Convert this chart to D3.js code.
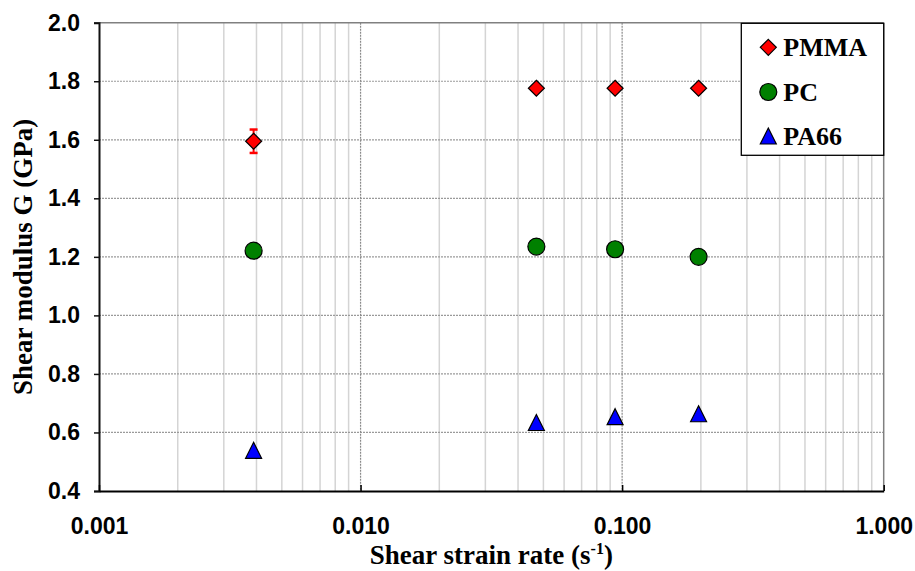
<!DOCTYPE html>
<html>
<head>
<meta charset="utf-8">
<script src="https://cdn.jsdelivr.net/npm/d3@7"></script>
<style>
  html, body { margin: 0; padding: 0; background: #fff; }
  svg { display: block; }
</style>
</head>
<body>
<svg id="chart" width="915" height="571"></svg>
<script>
// ---- data ----
const strainRates = [0.0039, 0.047, 0.094, 0.196];
const pmmaValues = [1.595, 1.776, 1.776, 1.776];
const pmmaErrors = [0.04, 0, 0, 0];
const pcValues = [1.221, 1.235, 1.226, 1.200];
const pa66Values = [0.539, 0.634, 0.654, 0.664];
const seriesNames = ["PMMA", "PC", "PA66"];
const xTickValues = [0.001, 0.01, 0.1, 1];
const xTickLabels = ["0.001", "0.010", "0.100", "1.000"];
const yTickValues = [0.4, 0.6, 0.8, 1.0, 1.2, 1.4, 1.6, 1.8, 2.0];
const xTitle = "Shear strain rate (s";
const xTitleSup = "-1";
const yTitle = "Shear modulus G (GPa)";

// ---- layout ----
const svg = d3.select("#chart");
const L = 99, R = 883.7, T = 22.7, B = 491;
const x = d3.scaleLog().domain([0.001, 1]).range([L, R]);
const y = d3.scaleLinear().domain([0.4, 2.0]).range([B, T]);

const sansBold = "'Liberation Sans', Arial, sans-serif";
const serifBold = "'Liberation Serif', 'Times New Roman', serif";

// minor vertical grid
const allX = x.ticks();
const minorX = allX.filter(d => !xTickValues.some(v => Math.abs(v - d) < 1e-12));
svg.append("g").selectAll("line").data(minorX).join("line")
  .attr("x1", d => x(d)).attr("x2", d => x(d))
  .attr("y1", T).attr("y2", B)
  .attr("stroke", "#d4d4d4").attr("stroke-width", 1.5);

// horizontal grid
svg.append("g").selectAll("line").data(yTickValues.filter(v => v > 0.4 && v < 2.0)).join("line")
  .attr("x1", L).attr("x2", R)
  .attr("y1", d => y(d)).attr("y2", d => y(d))
  .attr("stroke", "#9a9a9a").attr("stroke-width", 1.2)
  .attr("stroke-dasharray", "2,1");

// major vertical grid
svg.append("g").selectAll("line").data(xTickValues.slice(1, -1)).join("line")
  .attr("x1", d => x(d)).attr("x2", d => x(d))
  .attr("y1", T).attr("y2", B)
  .attr("stroke", "#8a8a8a").attr("stroke-width", 1.2)
  .attr("stroke-dasharray", "2,1");

// plot border (top/right gray)
svg.append("line").attr("x1", L).attr("x2", R).attr("y1", T).attr("y2", T)
  .attr("stroke", "#808080").attr("stroke-width", 1.5);
svg.append("line").attr("x1", R).attr("x2", R).attr("y1", T).attr("y2", B)
  .attr("stroke", "#808080").attr("stroke-width", 1.5);

// y axis
const yAxis = d3.axisLeft(y).tickValues(yTickValues).tickFormat(d3.format(".1f"))
  .tickSize(5).tickPadding(14);
const gy = svg.append("g").attr("transform", `translate(${L},0)`).call(yAxis);
gy.select(".domain").attr("stroke", "#111").attr("stroke-width", 2);
gy.selectAll(".tick line").attr("stroke", "#111").attr("stroke-width", 1.5);
gy.selectAll(".tick text").attr("font-family", sansBold).attr("font-weight", "bold")
  .attr("font-size", 23).attr("fill", "#000");

// x axis
const xAxis = d3.axisBottom(x).tickValues(xTickValues)
  .tickFormat((d, i) => xTickLabels[i]).tickSizeInner(-6).tickSizeOuter(0).tickPadding(27);
const gx = svg.append("g").attr("transform", `translate(0,${B})`).call(xAxis);
gx.select(".domain").attr("stroke", "#000").attr("stroke-width", 2);
gx.selectAll(".tick line").attr("stroke", "#000").attr("stroke-width", 1.5);
gx.selectAll(".tick text").attr("font-family", sansBold).attr("font-weight", "bold")
  .attr("font-size", 23).attr("fill", "#000");

// axis titles
svg.append("text")
  .attr("transform", `translate(32,${(T + B) / 2}) rotate(-90)`)
  .attr("text-anchor", "middle")
  .attr("font-family", serifBold).attr("font-weight", "bold").attr("font-size", 27)
  .text(yTitle);

const xt = svg.append("text")
  .attr("x", (L + R) / 2).attr("y", 564)
  .attr("text-anchor", "middle")
  .attr("font-family", serifBold).attr("font-weight", "bold").attr("font-size", 27);
xt.append("tspan").text(xTitle);
xt.append("tspan").attr("font-size", 16).attr("dy", -10).text(xTitleSup);
xt.append("tspan").attr("dy", 10).text(")");

// markers
const diamond = { draw(ctx, size) { const r = Math.sqrt(size) / 2; ctx.moveTo(0, -r); ctx.lineTo(r, 0); ctx.lineTo(0, r); ctx.lineTo(-r, 0); ctx.closePath(); } };
const triangle = { draw(ctx, size) { const r = Math.sqrt(size) / 2; ctx.moveTo(0, -r); ctx.lineTo(r, r); ctx.lineTo(-r, r); ctx.closePath(); } };
const symDiamond = d3.symbol().type(diamond).size(16 * 16)();
const symCircle = d3.symbol().type(d3.symbolCircle).size(Math.PI * 8.5 * 8.5)();
const symTriangle = d3.symbol().type(triangle).size(16 * 16)();

const series = [
  { name: seriesNames[0], values: pmmaValues, errors: pmmaErrors, path: symDiamond, fill: "#ff0000" },
  { name: seriesNames[1], values: pcValues, errors: null, path: symCircle, fill: "#008000" },
  { name: seriesNames[2], values: pa66Values, errors: null, path: symTriangle, fill: "#0000ff" }
];

// error bars
const eb = svg.append("g");
strainRates.forEach((r, i) => {
  const e = pmmaErrors[i];
  if (e > 0) {
    const cx = x(r);
    eb.append("line").attr("x1", cx).attr("x2", cx)
      .attr("y1", y(pmmaValues[i] + e)).attr("y2", y(pmmaValues[i] - e))
      .attr("stroke", "#ff0000").attr("stroke-width", 2);
    [pmmaValues[i] + e, pmmaValues[i] - e].forEach(v => {
      eb.append("line").attr("x1", cx - 4).attr("x2", cx + 4)
        .attr("y1", y(v)).attr("y2", y(v))
        .attr("stroke", "#ff0000").attr("stroke-width", 2.5);
    });
  }
});

series.forEach(s => {
  svg.append("g").selectAll("path").data(s.values).join("path")
    .attr("d", s.path)
    .attr("transform", (d, i) => `translate(${x(strainRates[i])},${y(d)})`)
    .attr("fill", s.fill).attr("stroke", "#000").attr("stroke-width", 1.2);
});

// legend
const lg = svg.append("g");
lg.append("rect").attr("x", 741.3).attr("y", 23.3).attr("width", R - 741.3).attr("height", 132)
  .attr("fill", "#fff").attr("stroke", "#000").attr("stroke-width", 1.3);
const legendY = [47.3, 92, 136];
series.forEach((s, i) => {
  lg.append("path").attr("d", s.path)
    .attr("transform", `translate(768.3,${legendY[i]})`)
    .attr("fill", s.fill).attr("stroke", "#000").attr("stroke-width", 1.2);
  lg.append("text").attr("x", 783.3).attr("y", legendY[i]).attr("dy", "0.35em")
    .attr("font-family", serifBold).attr("font-weight", "bold").attr("font-size", 26)
    .text(s.name);
});
</script>
</body>
</html>
